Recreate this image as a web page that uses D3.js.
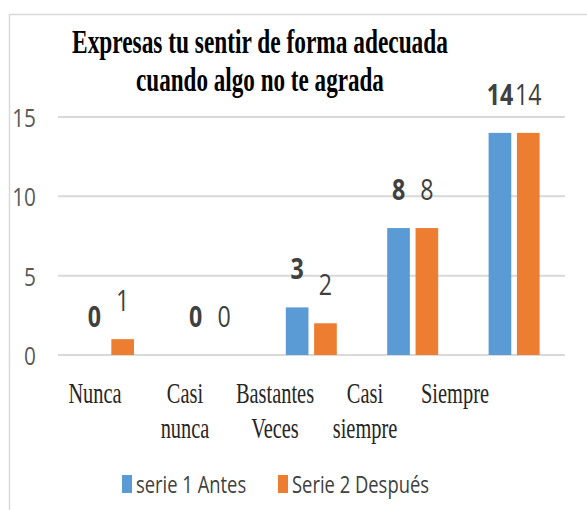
<!DOCTYPE html>
<html>
<head>
<meta charset="utf-8">
<script src="https://cdn.jsdelivr.net/npm/d3@7"></script>
<style>
  html, body { margin: 0; padding: 0; background: #fff; }
  svg { display: block; }
</style>
</head>
<body>
<svg id="chart" width="587" height="510"></svg>
<script>
const titleLines = ["Expresas tu sentir de forma adecuada", "cuando algo no te agrada"];
const categories = ["Nunca", "Casi nunca", "Bastantes Veces", "Casi siempre", "Siempre"];
const categoryLines = [["Nunca"], ["Casi", "nunca"], ["Bastantes", "Veces"], ["Casi", "siempre"], ["Siempre"]];
const seriesNames = ["serie 1 Antes", "Serie 2 Después"];
const antes = [0, 0, 3, 8, 14];
const despues = [1, 0, 2, 8, 14];
const yTicks = [0, 5, 10, 15];
const colors = ["#5B9BD5", "#ED7D31"];

const svg = d3.select("#chart");
const data = categories.map((c, i) => ({ cat: c, values: [antes[i], despues[i]] }));

// chart frame
svg.append("rect").attr("x", 9.5).attr("y", 14.5).attr("width", 620).attr("height", 600)
  .attr("fill", "#fff").attr("stroke", "#d9d9d9").attr("stroke-width", 1.5);

const x0 = d3.scaleBand().domain(categories).range([58, 565]).padding(0);
const x1 = d3.scaleBand().domain(seriesNames).range([25, 76]).paddingInner(0.2);
const y = d3.scaleLinear().domain([0, 15]).range([355, 117]);

// gridlines
svg.append("g").selectAll("line").data(yTicks).join("line")
  .attr("x1", 58).attr("x2", 565)
  .attr("y1", d => y(d)).attr("y2", d => y(d))
  .attr("stroke", "#d9d9d9").attr("stroke-width", 2);

// y axis labels
const yAxis = d3.axisLeft(y).tickValues(yTicks).tickSize(0).tickPadding(0);
const ya = svg.append("g").attr("transform", "translate(36,0)").call(yAxis);
ya.select(".domain").remove();
ya.selectAll("text")
  .attr("x", 0).attr("dy", null)
  .attr("dominant-baseline", "central")
  .attr("transform", "scale(0.8,1)")
  .attr("font-family", "'Open Sans', sans-serif").attr("font-size", 26)
  .attr("fill", "#595959").attr("text-anchor", "end");
ya.selectAll(".tick").attr("transform", d => `translate(0,${y(d)})`);

// bars
const groups = svg.append("g").selectAll("g").data(data).join("g")
  .attr("transform", d => `translate(${x0(d.cat)},0)`);
groups.selectAll("rect").data(d => d.values.map((v, i) => ({ s: seriesNames[i], v, i }))).join("rect")
  .attr("x", d => x1(d.s)).attr("width", x1.bandwidth())
  .attr("y", d => y(d.v)).attr("height", d => y(0) - y(d.v))
  .attr("fill", d => colors[d.i]);

// data labels
groups.selectAll("text.lbl").data(d => d.values.map((v, i) => ({ s: seriesNames[i], v, i }))).join("text")
  .attr("class", "lbl")
  .attr("transform", d => `translate(${x1(d.s) + x1.bandwidth() / 2},${y(d.v) - 28}) scale(0.8,1)`)
  .attr("text-anchor", "middle")
  .attr("font-family", "'Open Sans', sans-serif").attr("font-size", 29)
  .attr("font-weight", d => d.i === 0 ? "bold" : "normal")
  .attr("fill", "#404040")
  .text(d => d.v);

// category labels (positioned as in the picture)
const xl = d3.scalePoint().domain(categories).range([95, 455]);
const cl = svg.append("g");
categories.forEach((c, i) => {
  categoryLines[i].forEach((line, j) => {
    cl.append("text")
      .attr("transform", `translate(${xl(c)},${403 + j * 35}) scale(0.68,1)`)
      .attr("text-anchor", "middle")
      .attr("font-family", "'Liberation Serif', 'Times New Roman', serif")
      .attr("font-size", 30).attr("fill", "#262626")
      .text(line);
  });
});

// title (horizontally condensed to the picture's widths)
const titleWidths = [376, 248];
titleLines.forEach((t, i) => {
  const tx = svg.append("text")
    .attr("text-anchor", "middle")
    .attr("font-family", "'Liberation Serif', 'Times New Roman', serif")
    .attr("font-weight", "bold").attr("font-size", 34).attr("fill", "#000")
    .text(t);
  const natural = tx.node().getComputedTextLength();
  const s = titleWidths[i] / natural;
  tx.attr("transform", `translate(260,${53 + i * 38}) scale(${s},1)`);
});

// legend
const legendX = [122, 278];
const lg = svg.append("g");
seriesNames.forEach((s, i) => {
  lg.append("rect").attr("x", legendX[i]).attr("y", 475).attr("width", 10).attr("height", 18).attr("fill", colors[i]);
  lg.append("text")
    .attr("transform", `translate(${legendX[i] + 14},493) scale(0.8,1)`)
    .attr("font-family", "'Open Sans', sans-serif").attr("font-size", 23)
    .attr("fill", "#404040").text(s);
});
</script>
</body>
</html>
